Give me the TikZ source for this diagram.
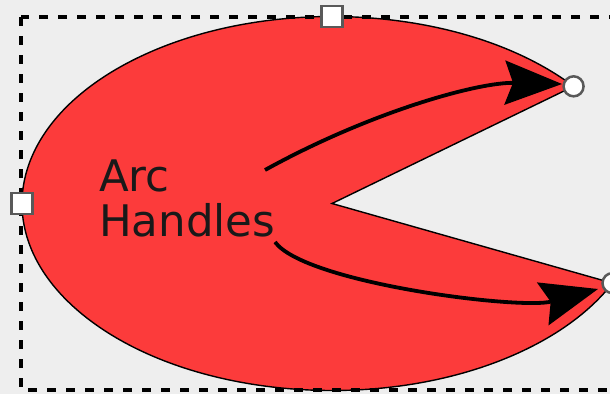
\documentclass[tikz,border=0pt]{standalone}
\usepackage{fontspec}
\setmainfont{DejaVu Sans}
\usetikzlibrary{arrows.meta,calc}
\definecolor{pacred}{HTML}{FC3B3B}
\definecolor{bggray}{HTML}{EEEEEE}
\begin{document}
\begin{tikzpicture}[x=1pt,y=-1pt,
  sqhandle/.style={rectangle, draw=black!65, line width=2.5pt, fill=white, minimum size=21pt, inner sep=0pt},
  cirhandle/.style={circle, draw=black!65, line width=2.5pt, fill=white, minimum size=20pt, inner sep=0pt},
  arcarrow/.style={line width=3.8pt, -{Stealth[length=57pt,width=44pt,inset=8pt]}},
  lbl/.style={anchor=base west, inner sep=0pt, font=\fontsize{43.5}{45}\selectfont, text=black!90},
  framebox/.style={line width=3.2pt, dash pattern=on 9pt off 10pt}]
\fill[bggray] (0,0) rectangle (610,394);
\useasboundingbox (0,0) rectangle (610,394);
\clip (0,0) rectangle (610,394);
\coordinate (c) at (332,203.5);
\coordinate (p1) at ($(c)+(-38.8:310 and 187)$);
\coordinate (p2) at ($(c)+(25.2:310 and 187)$);
\draw[fill=pacred, line width=1.4pt, line join=miter]
  (c) -- (p1) arc[start angle=-38.8, end angle=-334.8, x radius=310, y radius=187] -- cycle;
\draw[framebox] (21,17) rectangle (640,390);
\node[lbl] (t1) at (99,191) {Arc};
\node[lbl] (t2) at (99,236) {Handles};
\coordinate (a1s) at (265,170);
\coordinate (a1e) at (562,84);
\draw[arcarrow] (a1s) .. controls (370,112) and (478,82) .. (a1e);
\coordinate (a2s) at (275,242);
\coordinate (a2e) at (598,289);
\draw[arcarrow] (a2s) .. controls (305,283) and (520,310) .. (a2e);
\node[sqhandle] (hTop) at ($(c)+(0,-187)$) {};
\node[sqhandle] (hLeft) at ($(c)+(-310,0)$) {};
\node[cirhandle] (hEnd1) at (p1) {};
\node[cirhandle] (hEnd2) at (p2) {};
\end{tikzpicture}
\end{document}
